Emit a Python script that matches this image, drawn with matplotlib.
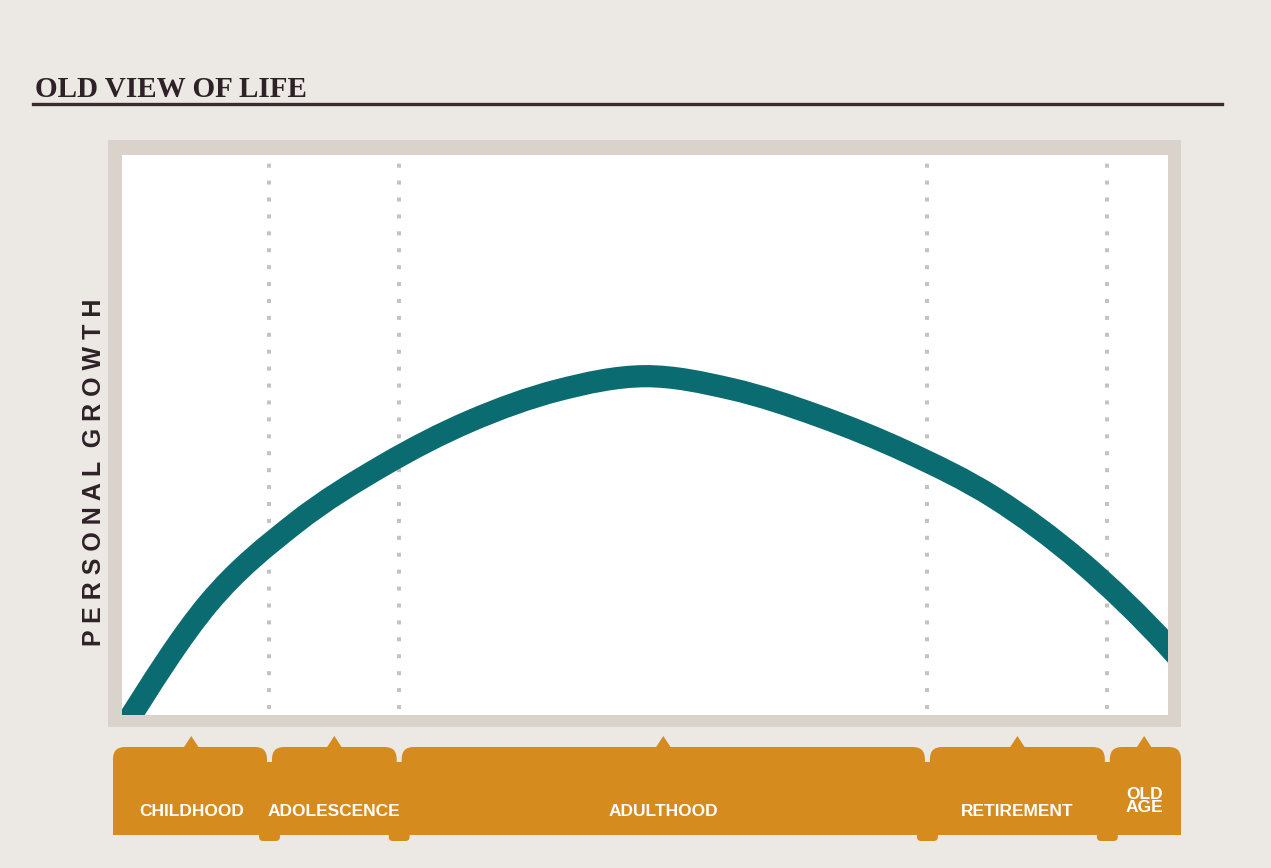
import numpy as np
import matplotlib
matplotlib.use("Agg")
import matplotlib.pyplot as plt
from matplotlib.path import Path
from matplotlib.patches import PathPatch, FancyBboxPatch, Rectangle, Polygon
from matplotlib.lines import Line2D

# ---------------- data ----------------
title = "OLD VIEW OF LIFE"
ylabel = "PERSONAL GROWTH"
stages = ["CHILDHOOD", "ADOLESCENCE", "ADULTHOOD", "RETIREMENT", "OLD\nAGE"]
stage_bounds = [0.0, 14.1, 26.5, 77.0, 94.2, 100.0]  # life-span position (0-100)

# personal growth curve (life position, growth 0-100)
life_x = [-8.3, 0.0, 8.3, 16.6, 25.0, 33.3, 41.7, 50.0, 58.3, 66.6, 75.0, 83.4, 91.7, 100.0, 108.3]
growth_y = [-29.0, -2.7, 20.0, 34.3, 44.6, 52.5, 58.0, 60.5, 58.2, 53.4, 47.0, 38.8, 27.3, 12.3, -6.3]

# ---------------- style ----------------
BG = "#ECE9E4"
FRAME = "#DAD3CC"
TEAL = "#0A6C71"
ORANGE = "#D68B1F"
DOT = "#C6C2C0"
DARK = "#2E2228"

W, H = 1271, 868
fig = plt.figure(figsize=(W / 100, H / 100), dpi=100, facecolor=BG)

def fx(px):
    return px / W

def fy(py):
    return 1 - py / H

# gray frame behind the plot area
fig.patches.append(Rectangle((fx(108), fy(727)), fx(1181) - fx(108), fy(140) - fy(727),
                             transform=fig.transFigure, facecolor=FRAME, edgecolor="none",
                             zorder=-5))

# main axes (white area)
ax = fig.add_axes([fx(122), fy(715), fx(1168) - fx(122), fy(155) - fy(715)])
ax.set_zorder(1)
ax.set_facecolor("white")
ax.set_xlim(0, 100)
ax.set_ylim(0, 100)
ax.set_xticks([])
ax.set_yticks([])
for s in ax.spines.values():
    s.set_visible(False)

# dotted stage separators
for b in stage_bounds[1:-1]:
    ax.axvline(b, color=DOT, lw=2.9, linestyle=(0, (1, 3.2)), dash_capstyle="butt",
               ymin=0.01, ymax=0.99, zorder=1)

# smooth curve through the read points (Catmull-Rom -> cubic Bezier)
P = np.column_stack([life_x, growth_y])
verts = [tuple(P[0])]
codes = [Path.MOVETO]
n = len(P)
for i in range(n - 1):
    p0 = P[i - 1] if i > 0 else P[i]
    p1 = P[i]
    p2 = P[i + 1]
    p3 = P[i + 2] if i + 2 < n else P[i + 1]
    c1 = p1 + (p2 - p0) / 6.0
    c2 = p2 - (p3 - p1) / 6.0
    verts += [tuple(c1), tuple(c2), tuple(p2)]
    codes += [Path.CURVE4] * 3
curve = PathPatch(Path(verts, codes), facecolor="none", edgecolor=TEAL, lw=16,
                  capstyle="butt", joinstyle="round", zorder=3)
ax.add_patch(curve)

# ---------------- stage band ----------------
band = fig.add_axes([fx(122), fy(845), fx(1168) - fx(122), fy(730) - fy(845)])
band.set_zorder(2)
band.set_xlim(0, 100)
band.set_ylim(845, 730)  # y in pixels (downwards)
band.axis("off")
px_per_unit = (1168 - 122) / 100.0
ext_left = -(122 - 113) / px_per_unit
ext_right = 100 + (1181 - 1168) / px_per_unit
gap = 2.5 / px_per_unit

edges = list(stage_bounds)
edges[0] = ext_left
edges[-1] = ext_right
top, bot = 747, 835
FONT = ["Liberation Sans", "DejaVu Sans"]
for i, name in enumerate(stages):
    x0 = edges[i] + (gap if i > 0 else 0)
    x1 = edges[i + 1] - (gap if i < len(stages) - 1 else 0)
    seg = FancyBboxPatch((x0, top), x1 - x0, bot - top,
                         boxstyle="round,pad=0,rounding_size=1.15",
                         mutation_aspect=px_per_unit,
                         facecolor=ORANGE, edgecolor="none", clip_on=False)
    band.add_patch(seg)
    mid = (edges[i] + edges[i + 1]) / 2
    band.add_patch(Polygon([(mid - 0.75, top + 1), (mid, 736), (mid + 0.75, top + 1)],
                           closed=True, facecolor=ORANGE, edgecolor="none", clip_on=False))
    if "\n" in name:
        band.text(mid, 801, name, ha="center", va="center", color="white",
                  fontsize=12.5, fontweight="bold", linespacing=0.9, family=FONT)
    else:
        band.text(mid, 811, name, ha="center", va="center", color="white",
                  fontsize=12.5, fontweight="bold", family=FONT)

# fill lower part so segments join, plus small feet at the joins
band.add_patch(Rectangle((ext_left, 762), ext_right - ext_left, bot - 762,
                         facecolor=ORANGE, edgecolor="none", clip_on=False))
for b in stage_bounds[1:-1]:
    band.add_patch(FancyBboxPatch((b - 1.0, 826), 2.0, 15,
                                  boxstyle="round,pad=0,rounding_size=0.4",
                                  mutation_aspect=px_per_unit,
                                  facecolor=ORANGE, edgecolor="none", clip_on=False))

# ---------------- title & labels ----------------
fig.text(fx(35), fy(97), title, ha="left", va="baseline", color=DARK,
         fontsize=21, fontweight="bold", family=["Liberation Serif", "DejaVu Serif"])
fig.add_artist(Line2D([fx(33), fx(1222)], [fy(104), fy(104)], color="#3A2C2C",
                      lw=2.4, transform=fig.transFigure))

fig.text(fx(94), fy(472), " ".join(ylabel).replace("   ", "  "), rotation=90,
         ha="center", va="center", color=DARK, fontsize=18, fontweight="bold",
         family=["Liberation Sans", "DejaVu Sans"])

fig.savefig("out.png", dpi=100, facecolor=BG)
